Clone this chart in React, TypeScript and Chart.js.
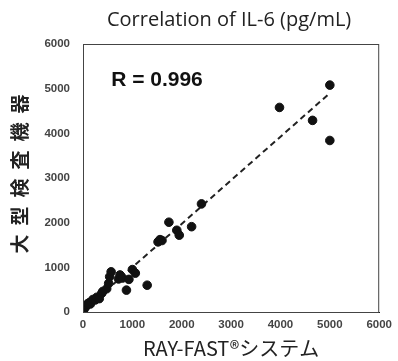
import React, { useEffect, useRef } from "react";
import { Chart, registerables } from "chart.js";

Chart.register(...registerables);

const titleText = "Correlation of IL-6 (pg/mL)";
const xTitle = "RAY-FAST®システム";
const yTitle = "大型検査機器";
const rLabel = "R = 0.996";

const rayFast = [10, 20, 40, 50, 60, 80, 100, 130, 150, 170, 200, 250, 280, 330, 380, 400, 480, 520, 540, 570, 720, 750, 800, 880, 930, 1000, 1060, 1300, 1520, 1560, 1600, 1740, 1900, 1950, 2200, 2400, 3980, 4650, 5000, 5000];
const largeAnalyzer = [80, 60, 100, 120, 130, 150, 190, 210, 180, 230, 280, 270, 330, 300, 420, 460, 520, 640, 790, 900, 740, 830, 760, 490, 730, 950, 870, 600, 1570, 1620, 1600, 2010, 1830, 1720, 1910, 2420, 4580, 4290, 5080, 3840];

const fitX = [0, 5000];
const fitY = [25, 4900];

const tickMin = 0;
const tickMax = 6000;
const tickStep = 1000;

export default function App() {
  const ref = useRef<HTMLCanvasElement | null>(null);
  useEffect(() => {
    if (!ref.current) return;
    const framePlugin = {
      id: "frame",
      afterDraw(chart: any) {
        const { ctx, chartArea } = chart;
        ctx.save();
        ctx.strokeStyle = "#444";
        ctx.lineWidth = 1;
        ctx.strokeRect(chartArea.left + 0.5, chartArea.top + 0.5, chartArea.right - chartArea.left - 1, chartArea.bottom - chartArea.top);
        ctx.fillStyle = "#222";
        ctx.font = "20px 'Open Sans', 'Noto Sans', sans-serif";
        ctx.textAlign = "center";
        ctx.textBaseline = "middle";
        ctx.fillText(titleText, (chartArea.left + chartArea.right) / 2 - 2, 20);
        const xs = chart.scales.x;
        const ys = chart.scales.y;
        ctx.font = "bold 21px 'Liberation Sans', Arial, sans-serif";
        ctx.textAlign = "left";
        ctx.fillStyle = "#111";
        ctx.fillText(rLabel, xs.getPixelForValue(570), ys.getPixelForValue(5180));
        // y axis title with letter spacing
        ctx.save();
        const spacing = 9;
        ctx.font = "bold 19px 'Noto Sans CJK JP', sans-serif";
        (ctx as any).letterSpacing = spacing + "px";
        ctx.fillStyle = "#222";
        ctx.translate(20, (chartArea.top + chartArea.bottom) / 2 - 4);
        ctx.rotate(-Math.PI / 2);
        ctx.textAlign = "left";
        ctx.textBaseline = "middle";
        const w = ctx.measureText(yTitle).width - spacing;
        ctx.fillText(yTitle, -w / 2, 0);
        ctx.restore();
        ctx.restore();
      },
    };
    const tickFont = { family: "'Liberation Sans', Arial, sans-serif", size: 11.5, weight: "bold" };
    const chart = new Chart(ref.current, {
      type: "scatter",
      data: {
        datasets: [
          {
            type: "line",
            data: fitX.map((x, i) => ({ x, y: fitY[i] })),
            borderColor: "#222",
            borderWidth: 2,
            borderDash: [6, 4],
            pointRadius: 0,
            fill: false,
            order: 2,
          },
          {
            data: rayFast.map((x, i) => ({ x, y: largeAnalyzer[i] })),
            backgroundColor: "#111",
            borderColor: "#111",
            pointRadius: 4.3,
            pointHoverRadius: 4.3,
            order: 1,
          },
        ],
      },
      options: {
        responsive: false,
        animation: false,
        layout: { padding: { top: 44, right: 15, left: 0, bottom: 0 } },
        plugins: { legend: { display: false }, tooltip: { enabled: false } },
        scales: {
          x: {
            type: "linear",
            min: tickMin,
            max: tickMax,
            afterFit: (s: any) => { s.height = 49; },
            ticks: { stepSize: tickStep, color: "#444", padding: 6, font: tickFont, maxRotation: 0, callback: (v: any) => String(v) },
            grid: { display: false, drawTicks: false },
            border: { display: true, color: "#111", width: 1 },
            title: { display: true, text: xTitle, color: "#222", padding: { top: 0, bottom: 1 }, font: { family: "'Noto Sans CJK JP', sans-serif", size: 20 } },
          },
          y: {
            type: "linear",
            min: tickMin,
            max: tickMax,
            afterFit: (s: any) => { s.width = 83; },
            ticks: { stepSize: tickStep, color: "#444", padding: 13, font: tickFont, callback: (v: any) => String(v) },
            grid: { display: false, drawTicks: false },
            border: { display: true, color: "#111", width: 1 },
            title: { display: false, text: yTitle },
          },
        },
      },
      plugins: [framePlugin],
    } as any);
    return () => chart.destroy();
  }, []);
  return (
    <div style={{ position: "absolute", left: 0, top: 0, width: 398, height: 361, background: "#fff" }}>
      <canvas ref={ref} width={398} height={361} />
    </div>
  );
}
